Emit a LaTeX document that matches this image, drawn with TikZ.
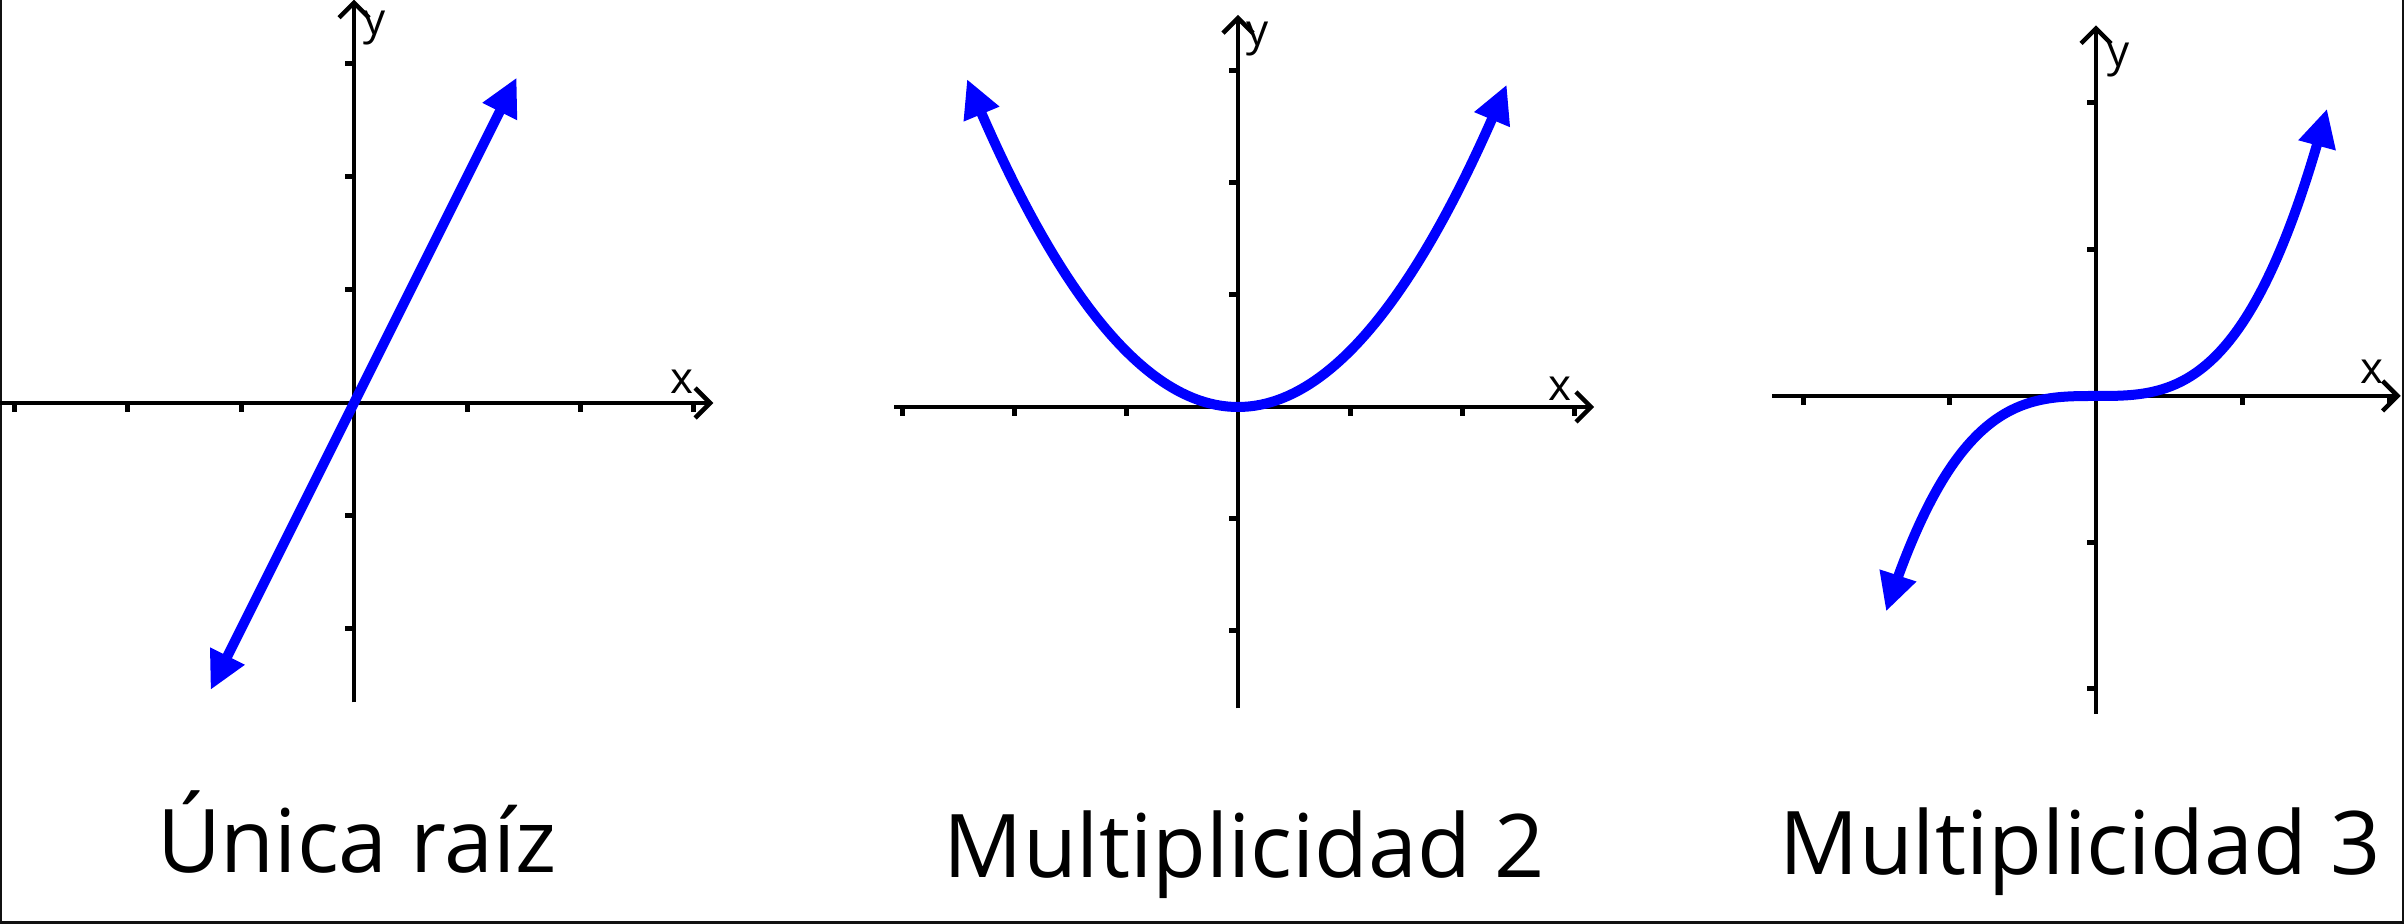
\documentclass[tikz,border=0pt]{standalone}
\usepackage{fontspec}
\setmainfont{Open Sans}
\definecolor{curveblue}{HTML}{0000FF}
\definecolor{framegray}{HTML}{111111}
\usetikzlibrary{arrows.meta}

\begin{document}
\begin{tikzpicture}[
  axis/.style={line width=0.45mm, -{Straight Barb[length=1.5mm, width=3mm, line width=0.45mm]}},
  tickmark/.style={line width=0.5mm},
  curve/.style={line width=1mm, draw=curveblue, {Triangle[length=3.8mm, width=3.6mm]}-{Triangle[length=3.8mm, width=3.6mm]}},
  axlabel/.style={font=\fontsize{12.5}{14}\selectfont, inner sep=0pt},
  caption/.style={font=\fontsize{25}{30}\selectfont, anchor=base, inner sep=0pt},
]
\useasboundingbox (0,0) rectangle (24.04,9.24);
\draw[framegray, line width=0.5mm] (0,9.6) -- (0,0) -- (24.04,0) -- (24.04,9.6);

% linear
\begin{scope}[shift={(3.54,5.21)}, x=1.13cm, y=1.13cm]
  \draw[axis] (-3.2,0) -- (3.18,0);
  \draw[axis] (0,-2.65) -- (0,3.57);
  \foreach \t in {-3,-2,-1,1,2,3} \draw[tickmark] (\t,0) -- ++(0,-0.09cm);
  \foreach \t in {-2,-1,1,2,3} \draw[tickmark] (0,\t) -- ++(-0.09cm,0);
  \draw[curve] (-1.27,-2.54) -- (1.44,2.88);
\end{scope}
\node[axlabel] (ya) at (3.75,8.96) {y};
\node[axlabel] (xa) at (6.82,5.42) {x};

% quadratic
\begin{scope}[shift={(12.38,5.17)}, x=1.12cm, y=1.12cm]
  \draw[axis] (-3.07,0) -- (3.18,0);
  \draw[axis] (0,-2.69) -- (0,3.5);
  \foreach \t in {-3,-2,-1,1,2,3} \draw[tickmark] (\t,0) -- ++(0,-0.09cm);
  \foreach \t in {-2,-1,1,2,3} \draw[tickmark] (0,\t) -- ++(-0.09cm,0);
  \draw[curve] plot[domain=-2.42:2.40, samples=80, smooth] (\x, {0.5*\x*\x});
\end{scope}
\node[axlabel] (yb) at (12.58,8.85) {y};
\node[axlabel] (xb) at (15.60,5.35) {x};

% cubic
\begin{scope}[shift={(20.96,5.28)}, x=1.465cm, y=1.465cm]
  \draw[axis] (-2.21,0) -- (2.08,0);
  \draw[axis] (0,-2.17) -- (0,2.53);
  \foreach \t in {-2,-1,1,2} \draw[tickmark] (\t,0) -- ++(0,-0.09cm);
  \foreach \t in {-2,-1,1,2} \draw[tickmark] (0,\t) -- ++(-0.09cm,0);
  \draw[curve] plot[domain=-1.433:1.577, samples=80, smooth] (\x, {0.5*\x*\x*\x});
\end{scope}
\node[axlabel] (yc) at (21.19,8.64) {y};
\node[axlabel] (xc) at (23.72,5.52) {x};

\node[caption] (capa) at (3.57,0.51) {Única raíz};
\node[caption] (capb) at (12.44,0.46) {Multiplicidad 2};
\node[caption] (capc) at (20.80,0.49) {Multiplicidad 3};
\end{tikzpicture}
\end{document}
